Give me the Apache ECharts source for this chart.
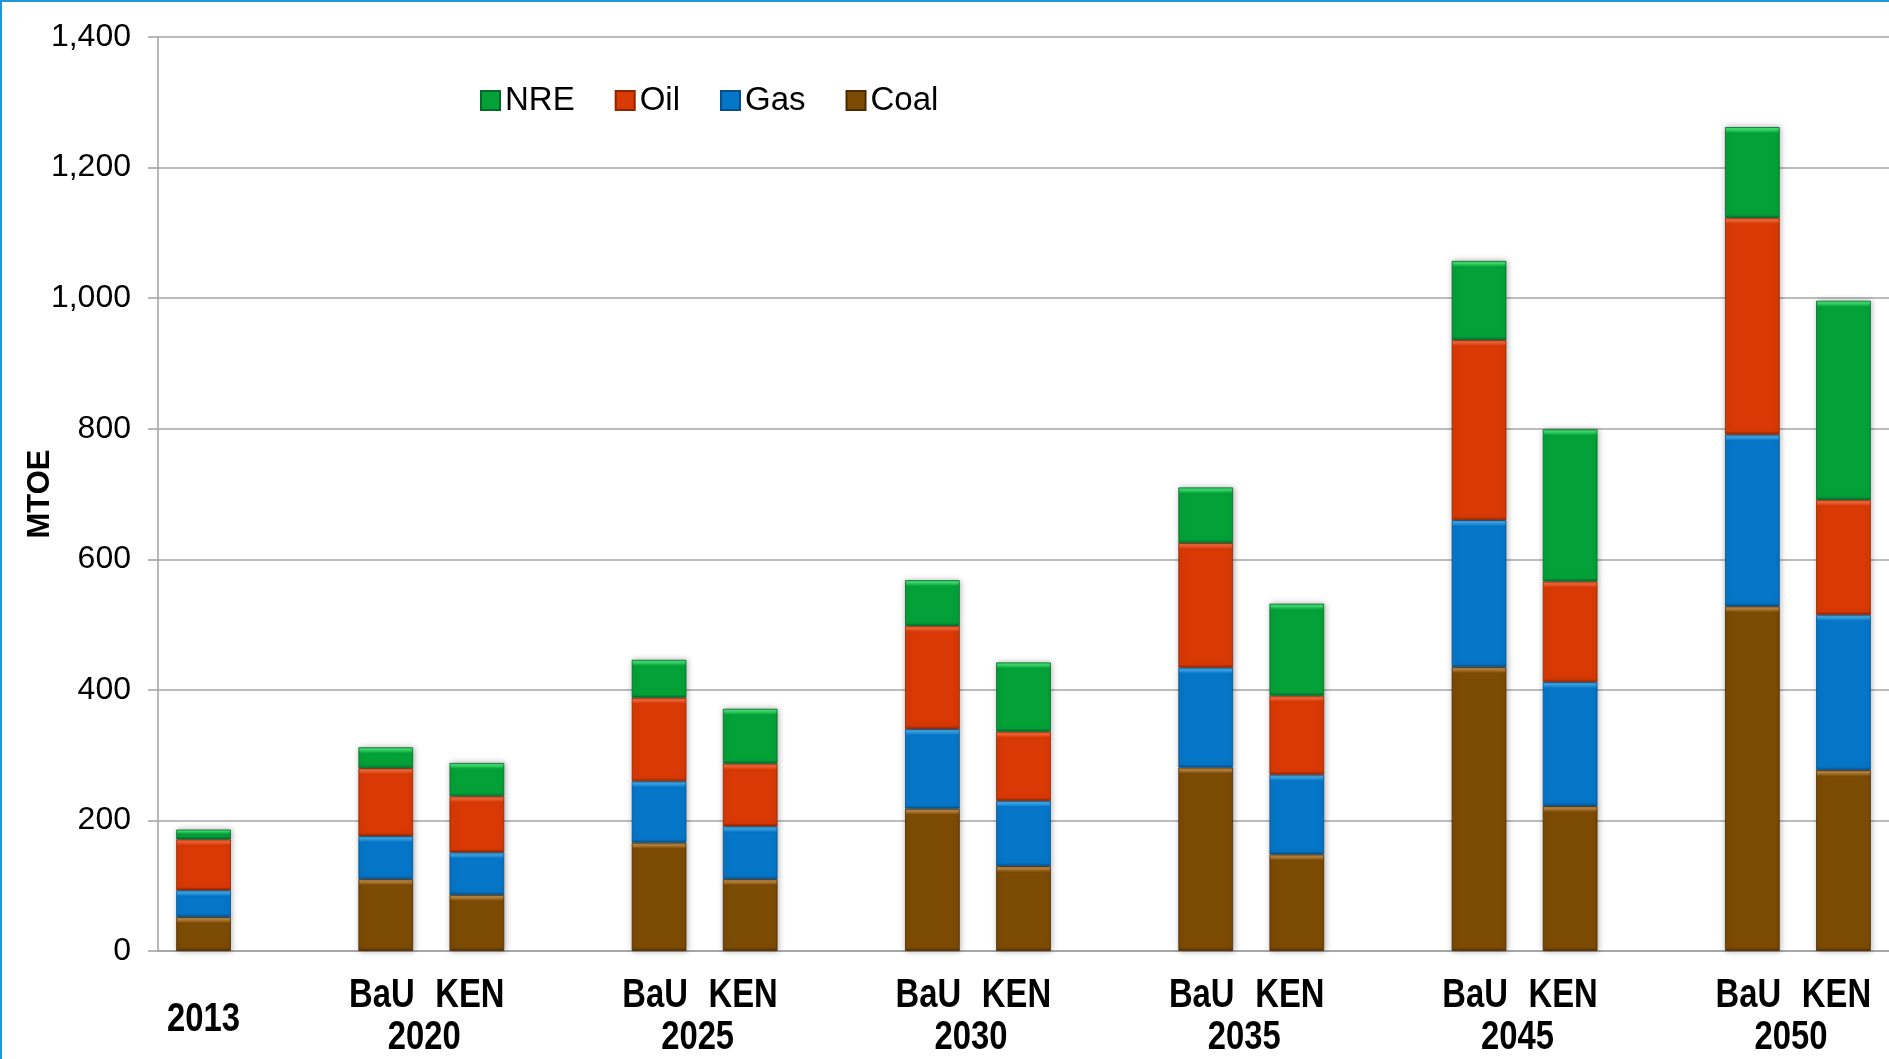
<!DOCTYPE html>
<html>
<head>
<meta charset="utf-8">
<title>Primary energy supply by source</title>
<script src="https://cdn.jsdelivr.net/npm/echarts@6/dist/echarts.min.js"></script>
<style>
  html, body { margin: 0; padding: 0; background: #ffffff; }
  #wrap { position: relative; width: 1889px; height: 1059px; overflow: hidden; }
  #chart { position: absolute; left: 0; top: 0; width: 1889px; height: 1059px; }
  #frame {
    position: absolute; left: 0; top: 0; width: 1889px; height: 1059px;
    box-sizing: border-box; border-top: 2px solid #1f97dc; border-left: 2px solid #1f97dc;
    pointer-events: none;
  }
</style>
</head>
<body>
<div id="wrap">
  <div id="chart"></div>
  <div id="frame"></div>
</div>
<script>
// Years and scenarios shown on the horizontal axis
const years = ['2013', '2020', '2025', '2030', '2035', '2045', '2050'];
const scenarios = ['BaU', 'KEN'];

// Supply by source (MTOE): 2013, then BaU / KEN for each later year
const coal = [52, 110, 86, 166, 110, 218, 130, 281, 148, 435, 222, 528, 277];
const gas  = [41, 66, 65, 94, 81, 122, 100, 153, 122, 225, 190, 263, 238];
const oil  = [78, 104, 86, 128, 96, 158, 106, 191, 121, 276, 154, 332, 176];
const nre  = [15, 32, 51, 58, 84, 70, 106, 85, 141, 121, 233, 139, 305];

// Value axis ticks
const yTicks = [0, 200, 400, 600, 800, 1000, 1200, 1400];

// Slot layout: 2013 alone, then a gap followed by the BaU/KEN pair for each year
const slots = [];
const slotSource = []; // index into the value arrays, or -1 for a gap
const labelItems = []; // text under the axis: { a, b, text, kind }
let k = 0;
years.forEach(function (y, i) {
  if (i === 0) {
    labelItems.push({ a: slots.length, b: slots.length, text: y, kind: 'single' });
    slots.push(y); slotSource.push(k++);
    return;
  }
  slots.push(y + ' gap'); slotSource.push(-1);
  const first = slots.length;
  scenarios.forEach(function (s) {
    labelItems.push({ a: slots.length, b: slots.length, text: s, kind: s });
    slots.push(y + ' ' + s); slotSource.push(k++);
  });
  labelItems.push({ a: first, b: slots.length - 1, text: y, kind: 'year' });
});

const GRID = { left: 158, right: -6, top: 37, bottom: 108 };
const CH = 1059;
const yMax = yTicks[yTicks.length - 1];
const pxPerUnit = (CH - GRID.top - GRID.bottom) / yMax;

const FONT = '"Liberation Sans", Arial, sans-serif';

// Vertical offset of each kind of axis text below the baseline, and a small nudge left
const LABEL_DY = { BaU: 45, KEN: 45, year: 87, single: 69 };
const LABEL_DX = { BaU: -4, KEN: -7, year: -7, single: 0 };

const palette = {
  Coal: { base: '#7c4b04', light: '#c48c42', dark: '#4a2b02' },
  Gas:  { base: '#0676c8', light: '#3fb0f5', dark: '#04508c' },
  Oil:  { base: '#d83905', light: '#ff6d3c', dark: '#8e2400' },
  NRE:  { base: '#04a138', light: '#3cda6c', dark: '#03692a' }
};

// Bevelled fill: bright strip along the top edge, darker lip at the bottom
function bevel(c, v) {
  const h = Math.max(v * pxPerUnit, 1);
  const a = Math.min(6 / h, 0.45);
  const b = Math.max(1 - 3 / h, a + 0.01);
  return {
    type: 'linear', x: 0, y: 0, x2: 0, y2: 1,
    colorStops: [
      { offset: 0, color: c.light },
      { offset: a * 0.4, color: c.light },
      { offset: a, color: c.base },
      { offset: b, color: c.base },
      { offset: 1, color: c.dark }
    ]
  };
}

function makeSeries(name, values) {
  const c = palette[name];
  const data = slotSource.map(function (src) {
    if (src < 0) return null;
    const v = values[src];
    return { value: v, itemStyle: { color: bevel(c, v) } };
  });
  return {
    name: name,
    type: 'bar',
    stack: 'total',
    barWidth: '60%',
    data: data,
    itemStyle: {
      color: c.base,
      borderColor: c.dark,
      borderWidth: 0.8,
      shadowColor: 'rgba(0,0,0,0.3)',
      shadowBlur: 6,
      shadowOffsetX: 1,
      shadowOffsetY: 0
    },
    emphasis: { disabled: true }
  };
}

// Bold, horizontally condensed category text placed from the category scale
const axisText = {
  type: 'custom',
  name: 'axis-text',
  silent: true,
  clip: false,
  z: 10,
  data: labelItems.map(function (it) { return [it.a, it.b]; }),
  renderItem: function (params, api) {
    const it = labelItems[params.dataIndex];
    const pa = api.coord([it.a, 0]);
    const pb = api.coord([it.b, 0]);
    return {
      type: 'text',
      x: (pa[0] + pb[0]) / 2 + LABEL_DX[it.kind],
      y: pa[1] + LABEL_DY[it.kind],
      scaleX: 0.82,
      style: {
        text: it.text,
        fontSize: 40,
        fontWeight: 'bold',
        fontFamily: FONT,
        fill: '#000000',
        align: 'center',
        verticalAlign: 'middle'
      }
    };
  }
};

const chart = echarts.init(document.getElementById('chart'), null, { renderer: 'canvas' });

chart.setOption({
  animation: false,
  backgroundColor: '#ffffff',
  grid: GRID,
  legend: {
    data: ['NRE', 'Oil', 'Gas', 'Coal'],
    left: 475,
    top: 79,
    itemWidth: 19,
    itemHeight: 19,
    itemGap: 40,
    icon: 'rect',
    textStyle: { fontSize: 33, fontFamily: FONT, color: '#000000' }
  },
  xAxis: {
    type: 'category',
    data: slots,
    axisLine: { show: true, onZero: false, lineStyle: { color: '#a0a0a0', width: 1.5 } },
    axisTick: { show: false },
    axisLabel: { show: false },
    splitLine: { show: false }
  },
  yAxis: {
    type: 'value',
    min: yTicks[0],
    max: yMax,
    interval: yTicks[1] - yTicks[0],
    name: 'MTOE',
    nameLocation: 'middle',
    nameGap: 102,
    nameMoveOverlap: false,
    nameTextStyle: { fontSize: 31, fontWeight: 'bold', fontFamily: FONT, color: '#000000' },
    axisLine: { show: true, onZero: false, lineStyle: { color: '#a0a0a0', width: 1.5 } },
    axisTick: { show: true, inside: false, length: 10, lineStyle: { color: '#a0a0a0', width: 1.5 } },
    axisLabel: {
      margin: 27,
      fontSize: 32,
      fontFamily: FONT,
      color: '#000000',
      formatter: function (v) { return v.toLocaleString('en-US'); }
    },
    splitLine: { show: true, lineStyle: { color: '#a6a6a6', width: 1.5 } }
  },
  series: [
    makeSeries('Coal', coal),
    makeSeries('Gas', gas),
    makeSeries('Oil', oil),
    makeSeries('NRE', nre),
    axisText
  ]
});
</script>
</body>
</html>
